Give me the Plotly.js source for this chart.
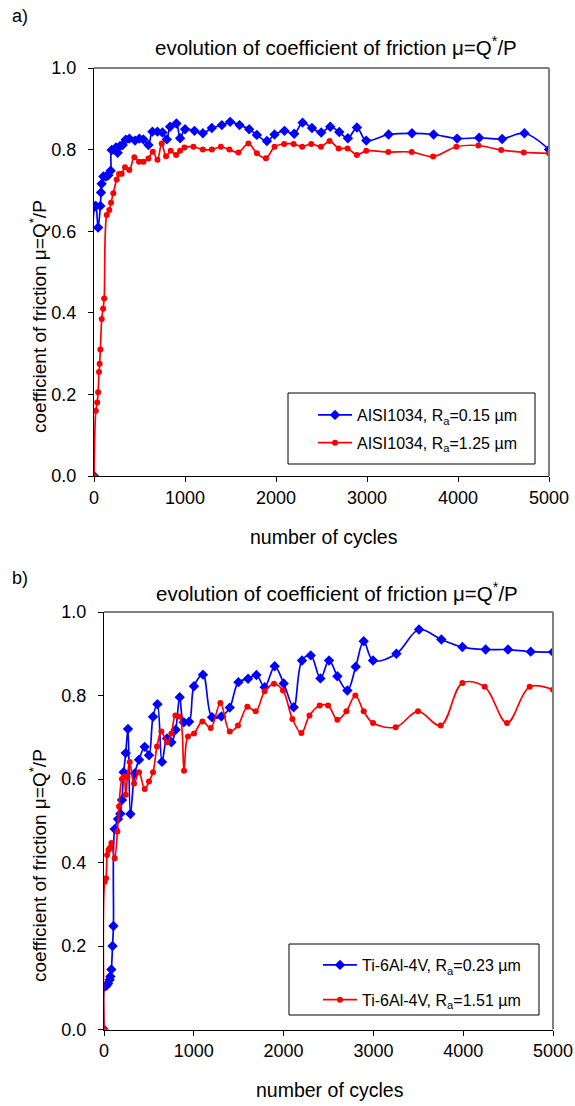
<!DOCTYPE html>
<html>
<head>
<meta charset="utf-8">
<script src="https://cdn.plot.ly/plotly-3.0.1.min.js"></script>
<style>html,body{margin:0;padding:0;background:#fff;}#chart{width:575px;height:1106px;}</style>
</head>
<body>
<div id="chart"></div>
<script>
// ---- Panel a) AISI1034 ----
var cyclesA1 = [0,8,20,45,70,77,84,103,132,157,183,194,223,242,260,286,315,348,388,451,499,543,598,642,697,752,800,836,906,946,1001,1104,1196,1295,1405,1496,1599,1705,1790,1900,1984,2093,2200,2292,2395,2497,2596,2695,2790,2889,2992,3237,3494,3732,3990,4232,4485,4730,5000];
var muA1 = [0,0.66,0.662,0.609,0.662,0.695,0.716,0.734,0.734,0.737,0.748,0.799,0.80,0.805,0.792,0.809,0.811,0.824,0.827,0.822,0.827,0.825,0.811,0.844,0.844,0.842,0.825,0.856,0.864,0.828,0.850,0.846,0.840,0.853,0.860,0.868,0.860,0.850,0.836,0.821,0.837,0.846,0.839,0.866,0.853,0.842,0.856,0.843,0.828,0.854,0.822,0.837,0.840,0.837,0.827,0.829,0.826,0.840,0.80];
var cyclesA2 = [0,20,35,45,55,62,70,85,100,112,140,168,187,212,249,275,304,341,388,443,495,543,598,646,697,744,792,843,902,946,994,1093,1196,1295,1394,1488,1587,1697,1790,1889,1984,2090,2193,2288,2387,2494,2589,2688,2787,2889,2992,3234,3491,3726,3982,4224,4474,4723,5000];
var muA2 = [0,0.16,0.18,0.205,0.255,0.275,0.31,0.385,0.41,0.435,0.64,0.652,0.67,0.693,0.727,0.74,0.741,0.757,0.75,0.781,0.77,0.77,0.778,0.795,0.775,0.815,0.784,0.797,0.787,0.797,0.805,0.807,0.80,0.80,0.807,0.80,0.793,0.815,0.791,0.779,0.807,0.814,0.814,0.807,0.814,0.807,0.821,0.803,0.803,0.787,0.797,0.794,0.794,0.783,0.807,0.81,0.799,0.793,0.791];

// ---- Panel b) Ti-6Al-4V ----
var cyclesB1 = [0,8,27,45,63,71,82,95,105,119,156,182,200,219,242,267,294,342,390,453,501,546,595,646,702,750,798,843,888,947,1002,1102,1203,1307,1400,1497,1604,1697,1789,1901,2001,2112,2205,2302,2410,2506,2599,2710,2803,2892,2996,3256,3508,3757,3991,4250,4499,4752,5000];
var muB1 = [0,0.103,0.105,0.11,0.119,0.127,0.144,0.2,0.248,0.48,0.504,0.517,0.55,0.616,0.662,0.72,0.516,0.613,0.646,0.677,0.657,0.749,0.779,0.641,0.697,0.688,0.718,0.796,0.736,0.737,0.822,0.85,0.748,0.75,0.771,0.832,0.84,0.849,0.82,0.87,0.829,0.772,0.884,0.896,0.841,0.884,0.846,0.812,0.869,0.93,0.884,0.90,0.958,0.934,0.916,0.91,0.91,0.905,0.904];
var cyclesB2 = [0,8,22,35,50,65,82,119,149,167,200,223,242,261,286,334,390,453,501,546,590,639,702,751,795,843,891,935,1002,1096,1188,1296,1400,1492,1597,1689,1789,1893,1993,2098,2198,2288,2402,2495,2599,2699,2799,2892,2996,3248,3497,3749,3991,4239,4488,4740,5000];
var muB2 = [0,0.354,0.362,0.418,0.43,0.435,0.447,0.41,0.474,0.534,0.60,0.606,0.562,0.605,0.641,0.589,0.616,0.576,0.594,0.616,0.678,0.714,0.688,0.709,0.752,0.75,0.62,0.702,0.709,0.738,0.722,0.782,0.714,0.728,0.773,0.762,0.81,0.828,0.812,0.744,0.71,0.752,0.776,0.776,0.742,0.762,0.80,0.762,0.734,0.724,0.762,0.728,0.83,0.821,0.734,0.821,0.814];

var namesA = ['AISI1034, R<sub>a</sub>=0.15 µm', 'AISI1034, R<sub>a</sub>=1.25 µm'];
var namesB = ['Ti-6Al-4V, R<sub>a</sub>=0.23 µm', 'Ti-6Al-4V, R<sub>a</sub>=1.51 µm'];
var xTicks = [0,1000,2000,3000,4000,5000];
var yTicks = [0,0.2,0.4,0.6,0.8,1.0];
var titleText = 'evolution of coefficient of friction μ=Q<sup>*</sup>/P';
var yTitleText = 'coefficient of friction μ=Q<sup>*</sup>/P';
var xTitleText = 'number of cycles';

var W = 575, H = 1106;
function px(x){ return x / W; }
function py(y){ return 1 - y / H; }

var FONT = 'Liberation Sans, Arial, sans-serif';
var BLUE = '#0000FF', RED = '#FF0000';

function tr(x, y, name, color, symbol, size, xa, ya, leg, grp){
  return {
    x: x, y: y, name: name, type: 'scatter', mode: 'lines+markers',
    xaxis: xa, yaxis: ya, legend: leg, legendgroup: grp,
    line: {color: color, width: 1.7, shape: 'spline', smoothing: 1},
    marker: {color: color, symbol: symbol, size: size}
  };
}

var data = [
  tr(cyclesA1, muA1, namesA[0], BLUE, 'diamond', 8, 'x', 'y', 'legend', 'a1'),
  tr(cyclesA2, muA2, namesA[1], RED, 'circle', 6, 'x', 'y', 'legend', 'a2'),
  tr(cyclesB1, muB1, namesB[0], BLUE, 'diamond', 8, 'x2', 'y2', 'legend2', 'b1'),
  tr(cyclesB2, muB2, namesB[1], RED, 'circle', 6, 'x2', 'y2', 'legend2', 'b2')
];

function xAxis(domain, anchor){
  return {
    domain: domain, anchor: anchor, range: [0, 5000], tickvals: xTicks,
    ticktext: xTicks.map(String),
    ticks: 'outside', ticklen: 5, tickcolor: '#000', tickwidth: 1,
    showline: true, linecolor: '#000', linewidth: 1, mirror: false,
    showgrid: false, zeroline: false, automargin: false,
    tickfont: {family: FONT, size: 18, color: '#000'}
  };
}
function yAxis(domain, anchor){
  return {
    domain: domain, anchor: anchor, range: [0, 1], tickvals: yTicks,
    ticktext: yTicks.map(function(v){ return v.toFixed(1); }),
    ticks: 'outside', ticklen: 5, tickcolor: '#000', tickwidth: 1,
    ticklabelstandoff: 8,
    showline: true, linecolor: '#000', linewidth: 1, mirror: false,
    showgrid: false, zeroline: false, automargin: false,
    tickfont: {family: FONT, size: 18, color: '#000'}
  };
}

// pixel geometry of the two plot areas
var A = {l: 94, r: 549, t: 68, b: 476};
var B = {l: 104, r: 553, t: 612, b: 1029.5};

var layout = {
  width: W, height: H,
  margin: {l: 0, r: 0, t: 0, b: 0, pad: 0},
  paper_bgcolor: '#fff', plot_bgcolor: '#fff',
  font: {family: FONT, color: '#000'},
  xaxis: xAxis([px(A.l), px(A.r)], 'y'),
  yaxis: yAxis([py(A.b), py(A.t)], 'x'),
  xaxis2: xAxis([px(B.l), px(B.r)], 'y2'),
  yaxis2: yAxis([py(B.b), py(B.t)], 'x2'),
  legend: {
    x: px(313), y: py(398), xanchor: 'left', yanchor: 'top',
    bgcolor: 'rgba(0,0,0,0)', borderwidth: 0, tracegroupgap: 4,
    itemwidth: 34, font: {family: FONT, size: 16, color: '#000'}
  },
  legend2: {
    x: px(318), y: py(948), xanchor: 'left', yanchor: 'top',
    bgcolor: 'rgba(0,0,0,0)', borderwidth: 0, tracegroupgap: 11,
    itemwidth: 34, font: {family: FONT, size: 16, color: '#000'}
  },
  shapes: [
    {type: 'line', xref: 'paper', yref: 'paper', x0: px(A.l), x1: px(A.r), y0: py(A.t), y1: py(A.t), line: {color: '#000', width: 1}},
    {type: 'line', xref: 'paper', yref: 'paper', x0: px(A.r), x1: px(A.r), y0: py(A.t), y1: py(A.b), line: {color: '#808080', width: 2}},
    {type: 'line', xref: 'paper', yref: 'paper', x0: px(B.l), x1: px(B.r), y0: py(B.t), y1: py(B.t), line: {color: '#000', width: 1}},
    {type: 'line', xref: 'paper', yref: 'paper', x0: px(B.r), x1: px(B.r), y0: py(B.t), y1: py(B.b), line: {color: '#808080', width: 2}},
    {type: 'rect', xref: 'paper', yref: 'paper', x0: px(288), x1: px(535), y0: py(464), y1: py(393), line: {color: '#000', width: 1}, fillcolor: 'rgba(0,0,0,0)', layer: 'below'},
    {type: 'rect', xref: 'paper', yref: 'paper', x0: px(289), x1: px(539), y0: py(1015), y1: py(944), line: {color: '#000', width: 1}, fillcolor: 'rgba(0,0,0,0)', layer: 'below'}
  ],
  annotations: [
    {text: 'a)', xref: 'paper', yref: 'paper', x: px(10), y: py(16), xanchor: 'left', yanchor: 'middle', showarrow: false, font: {family: FONT, size: 18}},
    {text: 'b)', xref: 'paper', yref: 'paper', x: px(10), y: py(578), xanchor: 'left', yanchor: 'middle', showarrow: false, font: {family: FONT, size: 18}},
    {text: titleText, xref: 'paper', yref: 'paper', x: px(336), y: py(46), xanchor: 'center', yanchor: 'middle', showarrow: false, font: {family: FONT, size: 20.5}},
    {text: titleText, xref: 'paper', yref: 'paper', x: px(337), y: py(592), xanchor: 'center', yanchor: 'middle', showarrow: false, font: {family: FONT, size: 20.5}},
    {text: xTitleText, xref: 'paper', yref: 'paper', x: px(324), y: py(537), xanchor: 'center', yanchor: 'middle', showarrow: false, font: {family: FONT, size: 19.5}},
    {text: xTitleText, xref: 'paper', yref: 'paper', x: px(330), y: py(1090), xanchor: 'center', yanchor: 'middle', showarrow: false, font: {family: FONT, size: 19.5}},
    {text: yTitleText, xref: 'paper', yref: 'paper', x: px(38), y: py(317), xanchor: 'center', yanchor: 'middle', textangle: -90, showarrow: false, font: {family: FONT, size: 19}},
    {text: yTitleText, xref: 'paper', yref: 'paper', x: px(38), y: py(866), xanchor: 'center', yanchor: 'middle', textangle: -90, showarrow: false, font: {family: FONT, size: 19}}
  ]
};

Plotly.newPlot('chart', data, layout, {displayModeBar: false, staticPlot: true});
</script>
</body>
</html>
